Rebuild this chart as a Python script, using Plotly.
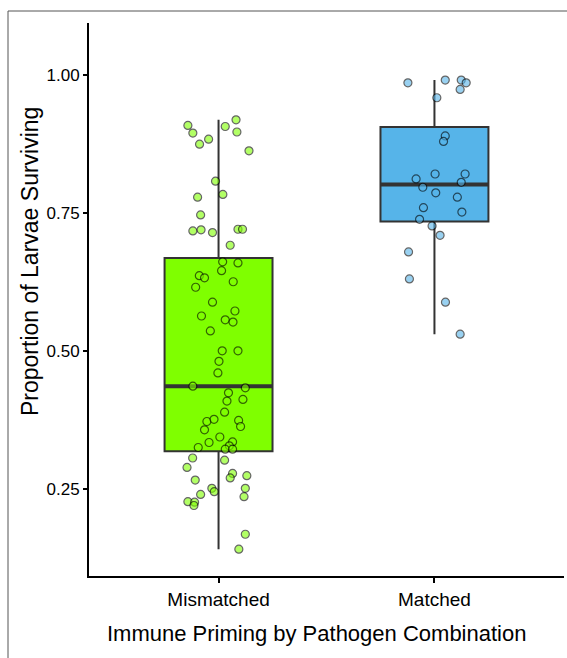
import plotly.graph_objects as go

# ---------------- data ----------------
categories = ["Mismatched", "Matched"]
box_fill = ["#7FFF00", "#56B4E9"]

q1 = [0.318, 0.734]
median = [0.436, 0.801]
q3 = [0.668, 0.905]
lower_fence = [0.141, 0.530]
upper_fence = [0.918, 0.990]

mismatched_y = [0.908, 0.894, 0.874, 0.883, 0.906, 0.918, 0.896, 0.862, 0.807, 0.783,
                0.778, 0.746, 0.717, 0.719, 0.714, 0.720, 0.720, 0.691, 0.661, 0.659,
                0.645, 0.636, 0.632, 0.625, 0.615, 0.588, 0.572, 0.563, 0.556, 0.552,
                0.536, 0.500, 0.500, 0.481, 0.460, 0.436, 0.433, 0.424, 0.409, 0.412,
                0.389, 0.372, 0.376, 0.374, 0.363, 0.357, 0.344, 0.334, 0.325, 0.335,
                0.328, 0.322, 0.322, 0.306, 0.289, 0.302, 0.266, 0.278, 0.270, 0.274,
                0.251, 0.245, 0.251, 0.240, 0.236, 0.227, 0.226, 0.220, 0.168, 0.141]
mismatched_jitter = [-0.142, -0.119, -0.088, -0.046, 0.031, 0.081, 0.085, 0.141, -0.014, 0.020,
                     -0.097, -0.083, -0.119, -0.081, -0.028, 0.090, 0.111, 0.054, 0.019, 0.090,
                     0.014, -0.089, -0.065, 0.068, -0.106, -0.028, 0.076, -0.079, 0.031, 0.067,
                     -0.038, 0.017, 0.090, 0.002, -0.003, -0.119, 0.124, 0.046, 0.039, 0.113,
                     0.028, -0.054, -0.021, 0.093, 0.102, -0.065, 0.006, -0.044, -0.094, 0.065,
                     0.050, 0.031, 0.065, -0.120, -0.146, 0.028, -0.108, 0.065, 0.054, 0.131,
                     -0.031, -0.020, 0.124, -0.083, 0.118, -0.142, -0.111, -0.114, 0.124, 0.094]

matched_y = [0.985, 0.990, 0.990, 0.985, 0.973, 0.958, 0.889, 0.879, 0.820, 0.820,
             0.811, 0.805, 0.796, 0.786, 0.778, 0.759, 0.751, 0.738, 0.726, 0.709,
             0.679, 0.630, 0.588, 0.530]
matched_jitter = [-0.123, 0.050, 0.124, 0.147, 0.119, 0.011, 0.050, 0.042, 0.003, 0.142,
                  -0.085, 0.124, -0.054, 0.006, 0.106, -0.051, 0.127, -0.069, -0.011, 0.026,
                  -0.120, -0.116, 0.051, 0.119]

y_ticks = [0.25, 0.50, 0.75, 1.00]
y_tick_labels = ["0.25", "0.50", "0.75", "1.00"]

x_title = "Immune Priming by Pathogen Combination"
y_title = "Proportion of Larvae Surviving"

# ---------------- figure ----------------
W, H = 567, 658
ML, MR, MT, MB = 89, 3, 23, 82
BOX_W = 0.5
DARK = "#333333"
FONT = "Liberation Sans, Arial, Helvetica, sans-serif"

positions = [i + 1 for i in range(len(categories))]
fig = go.Figure()

for i, pos in enumerate(positions):
    fig.add_trace(go.Box(
        x=[pos], q1=[q1[i]], median=[median[i]], q3=[q3[i]],
        lowerfence=[lower_fence[i]], upperfence=[upper_fence[i]],
        width=BOX_W, fillcolor=box_fill[i],
        line=dict(color=DARK, width=2), whiskerwidth=0,
        boxpoints=False, hoverinfo="skip", showlegend=False,
    ))
    # thicker median bar as in ggplot
    fig.add_trace(go.Scatter(
        x=[pos - BOX_W / 2, pos + BOX_W / 2], y=[median[i], median[i]],
        mode="lines", line=dict(color=DARK, width=4),
        hoverinfo="skip", showlegend=False,
    ))

groups = [(mismatched_y, mismatched_jitter), (matched_y, matched_jitter)]
for i, (ys, jit) in enumerate(groups):
    fig.add_trace(go.Scatter(
        x=[positions[i] + j for j in jit], y=ys, mode="markers",
        marker=dict(size=8, color=box_fill[i], opacity=0.6,
                    line=dict(color="black", width=1.2)),
        hoverinfo="skip", showlegend=False,
    ))

pw = W - ML - MR
ph = H - MT - MB
def px_x(x):
    return (x - ML) / pw
def px_y(y):
    return (H - MB - y) / ph

fig.update_layout(
    width=W, height=H,
    margin=dict(l=ML, r=MR, t=MT, b=MB, pad=0, autoexpand=False),
    paper_bgcolor="white", plot_bgcolor="white",
    font=dict(family=FONT, color="black"),
    hovermode=False,
    xaxis=dict(
        range=[0.4, 2.6], tickmode="array", tickvals=positions, ticktext=categories,
        showline=True, linecolor="black", linewidth=2, showgrid=False, zeroline=False,
        ticks="outside", ticklen=5, tickwidth=1.5, tickcolor="black",
        tickfont=dict(size=19, color="black"),
    ),
    yaxis=dict(
        range=[0.0924, 1.0933], tickmode="array", tickvals=y_ticks, ticktext=y_tick_labels,
        showline=True, linecolor="black", linewidth=2, showgrid=False, zeroline=False,
        ticks="outside", ticklen=4, tickwidth=1.5, tickcolor="black",
        tickfont=dict(size=17, color="black"),
    ),
    annotations=[
        dict(text=x_title, xref="paper", yref="paper", x=px_x(316), y=px_y(633),
             xanchor="center", yanchor="middle", showarrow=False,
             font=dict(size=22, color="black")),
        dict(text=y_title, xref="paper", yref="paper", x=px_x(30), y=px_y(262),
             xanchor="center", yanchor="middle", showarrow=False, textangle=-90,
             font=dict(size=23, color="black")),
    ],
    shapes=[
        dict(type="line", xref="paper", yref="paper",
             x0=px_x(8), x1=px_x(W), y0=px_y(11), y1=px_y(11),
             line=dict(color="#555555", width=1)),
        dict(type="line", xref="paper", yref="paper",
             x0=px_x(8), x1=px_x(8), y0=px_y(11), y1=px_y(H),
             line=dict(color="#555555", width=1)),
    ],
)

fig.write_html("out.html", config={"displayModeBar": False},
               post_script="document.body.style.margin='0';")
